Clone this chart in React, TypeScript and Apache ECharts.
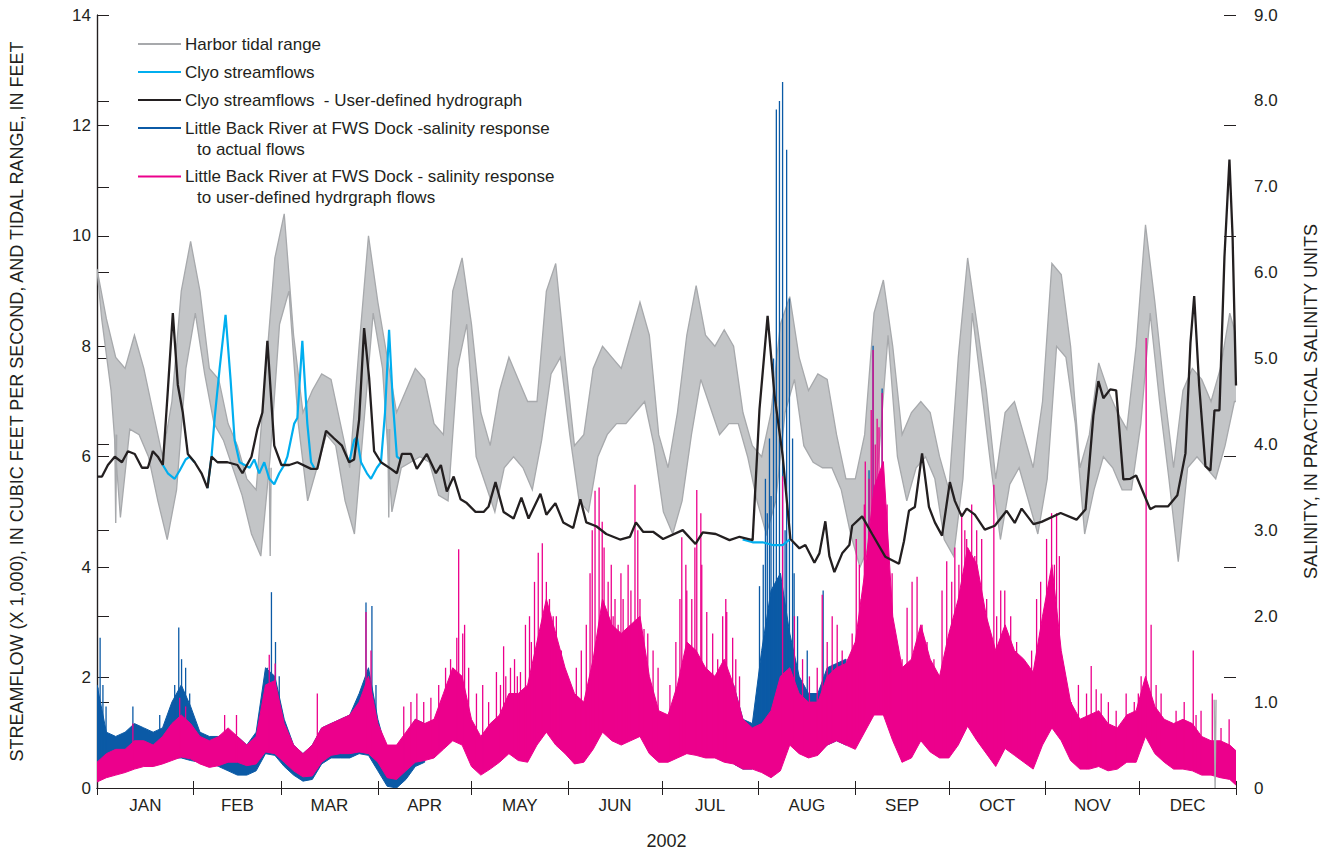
import { useEffect, useRef } from 'react';
import * as echarts from 'echarts';

// ---------- axes / labels ----------
const MONTHS = ['JAN', 'FEB', 'MAR', 'APR', 'MAY', 'JUN', 'JUL', 'AUG', 'SEP', 'OCT', 'NOV', 'DEC'];
const MONTH_START = [0, 31, 59, 90, 120, 151, 181, 212, 243, 273, 304, 334, 365];
const LEFT_TICKS_MAX = 14;
const RIGHT_TICKS_MAX = 9;

// ---------- data, sampled every STEP days (day 0 = Jan 1, 2002) ----------
const STEP = 3;

// Harbor tidal range (ft): higher / lower of the alternating daily ranges
const TIDE_HI = [9.4, 8.5, 7.8, 7.6, 8.2, 7.6, 6.8, 6.0, 7.0, 9.0, 9.9, 9.0, 7.6, 7.4, 6.6, 6.2, 5.6, 5.4, 7.5, 9.6,
  10.4, 8.2, 6.8, 7.2, 7.5, 7.4, 6.6, 5.8, 8.0, 10.0, 8.8, 7.8, 6.8, 7.2, 7.6, 7.4, 6.6, 6.4, 9.0, 9.6,
  8.4, 6.8, 6.2, 7.2, 7.8, 7.4, 7.0, 7.0, 9.0, 9.5, 7.8, 6.2, 6.4, 7.6, 8.0, 7.8, 7.6, 8.2, 8.8, 8.2,
  6.4, 5.8, 6.8, 8.2, 9.1, 8.2, 8.0, 8.3, 8.0, 6.8, 6.2, 6.0, 6.8, 8.4, 8.9, 7.8, 7.2, 7.5, 7.4, 6.4,
  5.6, 5.6, 6.4, 8.6, 9.2, 8.0, 6.4, 6.8, 7.0, 6.8, 6.0, 5.4, 7.8, 9.6, 8.4, 7.2, 5.6, 6.8, 7.0, 6.4,
  5.8, 7.0, 9.5, 9.3, 8.0, 5.8, 6.4, 7.7, 7.2, 6.8, 6.5, 8.0, 10.2, 8.8, 7.2, 5.8, 7.2, 7.6, 7.4, 7.0,
  7.6, 8.6, 8.0];
const TIDE_LO = [8.5, 7.2, 4.9, 6.5, 6.4, 6.0, 5.2, 4.5, 5.4, 7.6, 8.6, 7.5, 6.6, 6.3, 5.8, 5.3, 4.6, 4.2, 6.0, 8.4,
  9.0, 6.6, 5.2, 5.8, 6.4, 6.2, 5.2, 4.6, 6.6, 8.6, 7.6, 5.0, 5.8, 5.9, 6.0, 5.9, 5.3, 5.2, 7.6, 8.4,
  6.0, 5.5, 5.0, 5.8, 6.0, 5.8, 5.4, 6.3, 7.5, 7.8, 6.4, 5.2, 5.0, 6.0, 6.4, 6.6, 6.6, 6.8, 7.0, 6.2,
  5.0, 4.6, 5.2, 6.4, 7.4, 6.9, 6.4, 6.6, 6.6, 6.0, 5.2, 4.6, 5.2, 6.8, 7.4, 6.2, 5.9, 5.8, 5.8, 5.4,
  4.6, 4.0, 4.4, 6.0, 8.2, 6.0, 5.2, 5.8, 6.0, 5.6, 4.5, 4.2, 5.6, 8.6, 7.2, 5.8, 4.5, 5.5, 5.8, 5.2,
  4.6, 5.6, 8.0, 7.8, 6.6, 4.6, 5.4, 6.0, 5.8, 5.4, 5.4, 6.6, 8.6, 7.0, 5.6, 4.1, 5.8, 6.0, 5.8, 5.6,
  6.2, 7.0, 7.0];
// isolated deep dips of the tidal range [day, ft]
const TIDE_DIPS = [[6.0, 4.8], [55.5, 4.2], [93.5, 4.9], [358.3, 0.0]];

// Salinity response to user-defined hydrograph flows (psu): band floor / band top
const PINK_FLOOR = [0.07, 0.12, 0.15, 0.18, 0.22, 0.25, 0.25, 0.28, 0.32, 0.36, 0.34, 0.28, 0.24, 0.26, 0.3, 0.3, 0.26, 0.28, 0.42, 0.4,
  0.3, 0.2, 0.13, 0.14, 0.3, 0.38, 0.4, 0.4, 0.42, 0.4, 0.3, 0.12, 0.1, 0.2, 0.3, 0.32, 0.35, 0.45, 0.55, 0.5,
  0.25, 0.15, 0.22, 0.3, 0.4, 0.32, 0.3, 0.5, 0.65, 0.5, 0.4, 0.28, 0.3, 0.45, 0.65, 0.55, 0.5, 0.55, 0.6, 0.4,
  0.3, 0.3, 0.35, 0.4, 0.38, 0.35, 0.35, 0.3, 0.28, 0.22, 0.22, 0.18, 0.12, 0.2, 0.5, 0.4, 0.35, 0.38, 0.5, 0.55,
  0.5, 0.45, 0.65, 0.85, 0.85, 0.55, 0.3, 0.35, 0.55, 0.42, 0.35, 0.35, 0.5, 0.72, 0.55, 0.4, 0.25, 0.46, 0.38, 0.3,
  0.22, 0.5, 0.7, 0.55, 0.32, 0.22, 0.22, 0.25, 0.2, 0.22, 0.3, 0.3, 0.6, 0.4, 0.3, 0.22, 0.22, 0.2, 0.15, 0.15,
  0.12, 0.1, 0.0];
const PINK_TOP = [0.3, 0.4, 0.45, 0.45, 0.55, 0.55, 0.5, 0.6, 0.75, 0.85, 0.75, 0.6, 0.55, 0.6, 0.7, 0.6, 0.5, 0.6, 1.2, 1.25,
  0.75, 0.5, 0.4, 0.5, 0.7, 0.75, 0.8, 0.85, 1.0, 1.3, 0.75, 0.5, 0.5, 0.65, 0.8, 0.75, 0.8, 1.1, 1.4, 1.3,
  0.8, 0.6, 0.75, 0.85, 1.1, 1.1, 1.2, 1.7, 2.2, 1.8, 1.4, 1.1, 1.0, 1.5, 2.2, 1.9, 1.8, 1.9, 2.0, 1.3,
  0.9, 0.85, 1.2, 1.7, 1.6, 1.4, 1.3, 1.5, 1.2, 0.8, 0.7, 0.75, 0.9, 1.3, 1.4, 1.1, 1.0, 1.0, 1.3, 1.4,
  1.45, 1.7, 2.5, 3.5, 3.8, 2.0, 1.4, 1.5, 1.9, 1.5, 1.3, 1.8, 2.2, 2.8, 2.6, 2.0, 1.6, 1.9, 1.6, 1.5,
  1.35, 2.0, 2.6, 1.6, 1.0, 0.8, 0.85, 0.9, 0.75, 0.7, 0.85, 0.9, 1.3, 0.95, 0.8, 0.75, 0.8, 0.75, 0.6, 0.55,
  0.55, 0.5, 0.4];
// isolated tall pink peaks [day, psu]
const PINK_SPIKES = [[11.5, 0.75], [26.5, 1.05], [28.4, 0.95], [40.9, 0.85], [44.7, 0.85], [55.2, 1.55], [57.1, 1.45], [70.6, 1.1],
  [86.2, 2.05], [87.8, 1.6], [98.3, 0.95], [100.6, 1.0], [102.5, 1.1], [104.7, 1.0], [107, 1.05], [109.5, 1.2], [111.7, 1.4],
  [113.3, 1.5], [115.3, 1.75], [115.9, 2.78], [117.2, 1.8], [117.8, 1.9], [119.1, 1.4],
  [121.6, 1.1], [123.6, 1.2], [125.5, 1.0], [128, 1.35], [129.3, 1.2], [130.3, 1.65], [131, 1.3], [132.5, 1.4], [133.8, 1.5],
  [134.7, 1.3], [135.7, 1.35], [137.3, 1.9], [138.6, 2.0], [139.2, 1.7], [140.2, 2.4], [141.4, 2.74], [142.7, 2.85],
  [144, 2.4], [145, 2.2], [145.6, 1.85], [146.2, 2.0], [147.2, 2.0], [148.1, 1.5], [148.8, 1.6], [149.7, 1.3],
  [153.6, 1.4], [155.2, 1.6], [156.8, 1.9], [158, 2.5], [158.7, 3.0], [159.6, 3.46], [160.9, 3.5], [161.9, 3.1],
  [162.5, 2.8], [163.8, 2.4], [164.8, 2.6], [165.4, 2.0], [166, 2.2], [167, 1.9], [167.9, 2.5], [168.6, 2.2],
  [169.5, 1.75], [170.2, 2.6], [171.1, 2.3], [172.4, 3.53], [173.3, 3.0], [174, 2.2], [175.3, 1.85], [176.5, 1.8],
  [178.2, 1.6], [179.8, 1.4], [183.6, 1.2], [185.5, 1.7], [186.8, 2.2], [187.4, 2.92], [188.7, 2.6], [189, 2.3],
  [190.6, 2.2], [191.6, 2.8], [192.2, 3.47], [193.5, 3.2], [193.8, 2.6], [195.4, 2.05], [197.3, 1.8], [198.9, 1.5],
  [200.5, 2.0], [201.5, 2.2], [201.8, 2.05], [203.7, 1.75], [204.7, 1.5], [205.9, 1.3], [219.7, 3.63],
  [223.5, 2.0], [226.1, 1.5], [228.3, 1.3], [230.8, 1.4], [232.4, 2.25], [234, 1.7], [235.6, 2.0], [237.2, 1.9],
  [238.8, 1.6], [240.4, 1.5], [242, 1.8], [243.3, 2.9], [244.3, 2.6], [244.9, 2.2], [245.9, 3.3], [246.2, 3.8],
  [247.4, 3.6], [248.1, 4.4], [248.7, 5.1], [249.4, 4.0], [250, 4.3], [250.6, 4.2], [251.6, 4.6], [252.6, 3.0],
  [253.2, 3.3], [254.2, 2.2], [254.8, 2.5], [256.4, 1.6], [258, 1.5], [259.6, 2.1], [261.2, 2.4], [262.8, 2.46],
  [264.4, 1.9], [266, 1.7], [268.2, 1.5], [270.8, 2.3], [272.3, 2.64], [273.9, 2.4], [274.9, 2.8], [276.2, 2.6],
  [277.1, 3.2], [278.1, 3.0], [278.7, 2.9], [280.3, 3.3], [281.3, 2.7], [281.9, 3.0], [283.5, 2.9], [285.1, 2.2],
  [287.4, 3.53], [288.3, 2.0], [289.6, 2.3], [290.9, 2.3], [292.8, 2.0], [294.7, 1.7], [296.3, 1.5], [297.9, 1.35],
  [299.5, 1.6], [301.1, 2.2], [302.4, 2.4], [304.3, 2.9], [305.9, 3.2], [306.8, 2.6], [307.5, 3.2], [308.4, 2.7],
  [310, 1.4], [312.2, 1.0], [314.5, 1.2], [317.1, 1.1], [318.6, 1.42], [320.2, 1.15], [321.8, 1.1], [324.1, 1.0],
  [326.6, 0.9], [329.8, 1.1], [332.4, 1.0], [333.7, 1.1], [334.6, 1.3], [336.2, 5.24], [337.8, 1.9], [339.4, 1.2],
  [341, 1.1], [345.8, 0.9], [348.4, 1.0], [351.3, 1.6], [352.2, 0.85], [353.8, 0.9], [357.4, 1.1], [360.2, 0.7], [362.8, 0.8]];

// Salinity response to actual flows (psu), where it departs from the pink curve
const BLUE1_START = 0;
const BLUE1_FLOOR = [0.3, 0.3, 0.3, 0.32, 0.35, 0.35, 0.32, 0.3, 0.35, 0.35, 0.32, 0.3, 0.3, 0.25, 0.2, 0.15, 0.15, 0.2, 0.4, 0.38,
  0.25, 0.15, 0.08, 0.1, 0.28, 0.35, 0.35, 0.35, 0.4, 0.38, 0.2, 0.02, 0.0, 0.1, 0.25, 0.3];
const BLUE1_TOP = [1.2, 0.65, 0.6, 0.65, 0.75, 0.7, 0.65, 0.7, 1.0, 1.2, 0.95, 0.65, 0.6, 0.6, 0.65, 0.6, 0.5, 0.65, 1.4, 1.3,
  0.8, 0.5, 0.4, 0.5, 0.7, 0.75, 0.8, 0.85, 1.1, 1.4, 0.8, 0.4, 0.35, 0.6, 0.8, 0.75];
const BLUE2_START = 204;
const BLUE2_FLOOR = [0.28, 0.22, 0.22, 0.5, 0.8, 0.9, 0.8, 0.45, 0.38, 0.4, 0.5, 0.55, 0.5];
const BLUE2_TOP = [1.2, 0.8, 0.75, 1.6, 2.3, 2.5, 1.8, 1.3, 1.1, 1.1, 1.4, 1.45, 1.5];
const BLUE_SPIKES = [[0.3, 1.17], [1.0, 1.75], [1.9, 1.2], [2.9, 0.95], [11.5, 0.95], [20.1, 0.85], [24.9, 1.2], [26.2, 1.87],
  [27.1, 1.5], [28.4, 1.4], [29.7, 1.1], [54.6, 1.4], [55.9, 2.28], [57.2, 1.7], [58.4, 1.3], [86.2, 2.16], [88.1, 2.12],
  [89.4, 1.2], [212.3, 2.35], [213.5, 2.6], [214.2, 3.6], [214.8, 3.2], [215.5, 4.07], [216, 3.4], [216.8, 5.0],
  [217.7, 7.9], [218.7, 8.0], [219.7, 8.22], [220.5, 3.0], [221, 7.43], [221.9, 5.7], [222.9, 4.07], [223.4, 2.5],
  [224.5, 2.0], [227.6, 1.6], [232.7, 2.3], [247.4, 3.7], [248.7, 5.15], [251.6, 4.65]];

// Clyo streamflows, user-defined hydrograph (x 1,000 cfs) [day, value]
const CLYO_USER = [[0, 5.64], [1.6, 5.64], [3.5, 5.85], [5.7, 6.0], [8, 5.9], [9.9, 6.1], [12.1, 6.05], [14.4, 5.8], [16.3, 5.8],
  [17.9, 6.1], [19.5, 6.0], [21.1, 5.85], [22.7, 7.2], [24.3, 8.6], [25.9, 7.3], [27.5, 6.8], [29.1, 6.05], [31.3, 5.9],
  [33.5, 5.7], [35.4, 5.43], [36.7, 6.0], [38.6, 5.9], [41.8, 5.9], [45, 5.85], [46.6, 5.7], [49.5, 6.0], [51.4, 6.5],
  [53, 6.8], [54.6, 8.1], [56.8, 6.2], [59.1, 5.85], [61.6, 5.85], [64.2, 5.9], [68.6, 5.78], [70.6, 5.78], [73.4, 6.47],
  [76, 6.33], [78.5, 6.2], [80.8, 5.9], [82.4, 5.95], [84, 6.67], [85.6, 8.33], [87.2, 7.43], [88.8, 6.1], [91, 5.9],
  [94.2, 5.78], [96.1, 5.7], [97.7, 6.05], [100.6, 6.05], [102.5, 5.78], [105.7, 6.05], [108.6, 5.7], [110.2, 5.85],
  [112.1, 5.37], [114.3, 5.64], [116.5, 5.23], [118.5, 5.16], [121.3, 5.0], [123.9, 5.0], [125.5, 5.1], [127.7, 5.54],
  [130.3, 5.0], [133.5, 4.88], [136, 5.26], [138.3, 4.88], [142.1, 5.33], [144, 4.95], [146.9, 5.16], [149.4, 4.81],
  [152.6, 4.71], [154.9, 5.23], [156.8, 4.81], [160, 4.74], [163.2, 4.6], [167.6, 4.5], [170.8, 4.55], [172.7, 4.81],
  [175, 4.64], [178.2, 4.64], [181.4, 4.51], [187.7, 4.67], [191.8, 4.42], [194.1, 4.63], [198.3, 4.6], [202.7, 4.49],
  [205.9, 4.55], [210.1, 4.49], [212.3, 6.86], [214.9, 8.55], [217.1, 7.12], [219.7, 6.03], [222.2, 4.51], [225.1, 4.34],
  [227, 4.4], [229.9, 4.08], [231.5, 4.25], [233.4, 4.83], [234.7, 4.2], [236.3, 3.91], [238.8, 4.25], [241.1, 4.4],
  [242, 4.75], [245.2, 4.92], [248.4, 4.6], [252.6, 4.19], [257, 4.06], [258.6, 4.47], [260.2, 5.02], [262.1, 5.09],
  [264.4, 6.06], [266.6, 5.09], [268.5, 4.81], [270.8, 4.57], [273.3, 5.54], [274.9, 5.2], [277.1, 4.92], [278.7, 5.06],
  [281.3, 4.95], [284.5, 4.68], [287.7, 4.75], [291.5, 5.02], [294.1, 4.8], [296.3, 5.06], [300.1, 4.78], [302.7, 4.82],
  [308.8, 4.98], [313.9, 4.86], [316.8, 5.05], [319.3, 6.75], [320.9, 7.37], [322.5, 7.06], [324.7, 7.22], [326.6, 7.2],
  [328.9, 5.59], [331.1, 5.6], [333, 5.66], [335.2, 5.36], [337.5, 5.05], [339.1, 5.1], [343.2, 5.1], [346.2, 5.3],
  [348.8, 6.06], [350.4, 8.06], [351.6, 8.91], [353.2, 7.29], [355.2, 5.83], [356.8, 5.75], [358.1, 6.84], [359.7, 6.84],
  [361.3, 9.62], [362.9, 11.38], [363.9, 10.0], [365, 7.29]];

// Clyo streamflows, actual, where they differ from the user-defined hydrograph (null = gap)
const CLYO_ACTUAL = [[21.1, 5.85], [22.7, 5.7], [24.9, 5.6], [26.5, 5.75], [28.4, 5.95], [29.7, 6.0], [31.3, 5.9], [33, null],
  [35.4, 5.43], [36.7, 6.0], [37.7, 6.7], [39.3, 7.6], [41.2, 8.57], [42.8, 7.4], [44.1, 6.3], [45.7, 5.9], [47.3, 5.85],
  [48.9, 5.8], [50.4, 5.95], [52, 5.7], [53.6, 5.9], [55.2, 5.6], [56.8, 5.5], [58.4, 5.7], [60, 5.85], [61, 6.0],
  [63.2, 6.6], [64.2, 6.7], [65.8, 8.1], [67.4, 6.6], [68.6, 5.9], [69.6, 5.8], [75, null],
  [80.8, 5.9], [82.4, 6.3], [83.3, 6.35], [84.6, 5.9], [86.5, 5.7], [87.8, 5.6], [89.7, 5.8], [91, 5.9], [92.3, 6.8],
  [93.6, 8.3], [94.8, 7.0], [96.1, 6.0], [97.4, 5.95], [150, null],
  [206.9, 4.5], [210.1, 4.45], [213.3, 4.45], [216.5, 4.4], [219.7, 4.4], [222.2, 4.51]];

// ---------- styling ----------
const FONT = '"Liberation Sans", Arial, sans-serif';
const INK = '#231f20';
const C_GRAY = '#a7a9ac';
const C_GRAY_FILL = '#c3c5c7';
const C_CYAN = '#00aeef';
const C_BLACK = '#231f20';
const C_BLUE = '#0b5aa6';
const C_PINK = '#ec008c';

const LEGEND = [
  { color: C_GRAY, lines: ['Harbor tidal range'] },
  { color: C_CYAN, lines: ['Clyo streamflows'] },
  { color: C_BLACK, lines: ['Clyo streamflows  - User-defined hydrograph'] },
  { color: C_BLUE, lines: ['Little Back River at FWS Dock -salinity response', 'to actual flows'] },
  { color: C_PINK, lines: ['Little Back River at FWS Dock - salinity response', 'to user-defined hydrgraph flows'] },
];

// band drawn as one polygon through the axis scales: top edge forward, bottom edge backward
function bandSeries(top: number[], bottom: number[], start: number, bottomOffset: number,
  yAxisIndex: number, fill: string, stroke: string, lw: number) {
  return {
    type: 'custom', coordinateSystem: 'cartesian2d', xAxisIndex: 0, yAxisIndex, silent: true,
    data: [[start, bottom[0]]], encode: { x: 0, y: 1 }, clip: true,
    renderItem: (_p: any, api: any) => {
      const pts: number[][] = [];
      top.forEach((t, i) => pts.push(api.coord([start + i * STEP, t])));
      for (let i = bottom.length - 1; i >= 0; i--) pts.push(api.coord([start + i * STEP + bottomOffset, bottom[i]]));
      return {
        type: 'polygon', shape: { points: pts },
        style: { fill, stroke, lineWidth: lw, lineJoin: 'miter' },
      };
    },
  };
}

// base of a spike: the higher of the two neighbouring band-floor samples, so it starts inside the band
function floorAt(day: number, floor: number[], start: number) {
  const k = (day - start) / STEP;
  const a = floor[Math.max(0, Math.floor(k))];
  const b = floor[Math.min(floor.length - 1, Math.ceil(k))];
  return Math.max(a ?? 0, b ?? 0);
}

function spikeSeries(data: number[][], color: string, baseOf: (d: number) => number) {
  return {
    type: 'custom', coordinateSystem: 'cartesian2d', xAxisIndex: 0, yAxisIndex: 1, silent: true,
    data, encode: { x: 0, y: 1 }, clip: true,
    renderItem: (_p: any, api: any) => {
      const d = api.value(0);
      const p1 = api.coord([d, baseOf(d)]);
      const p2 = api.coord([d, api.value(1)]);
      return {
        type: 'line', shape: { x1: p1[0], y1: p1[1], x2: p2[0], y2: p2[1] },
        style: { stroke: color, lineWidth: 1.3 },
      };
    },
  };
}

const pinkBase = (d: number) => floorAt(d, PINK_FLOOR, 0);
const blueBase = (d: number) => {
  if (d >= BLUE1_START && d <= BLUE1_START + (BLUE1_FLOOR.length - 1) * STEP) return floorAt(d, BLUE1_FLOOR, BLUE1_START);
  if (d >= BLUE2_START && d <= BLUE2_START + (BLUE2_FLOOR.length - 1) * STEP) return floorAt(d, BLUE2_FLOOR, BLUE2_START);
  return pinkBase(d);
};

export default function App() {
  const ref = useRef<HTMLDivElement>(null);

  useEffect(() => {
    if (!ref.current) return;
    const chart = echarts.init(ref.current, null, { renderer: 'svg' });

    const mids = MONTHS.map((_, i) => (MONTH_START[i] + MONTH_START[i + 1]) / 2);

    const legendGraphics: any[] = [];
    let y = 44;
    LEGEND.forEach((item) => {
      legendGraphics.push({
        type: 'line', z: 100, shape: { x1: 138, y1: y, x2: 181, y2: y },
        style: { stroke: item.color, lineWidth: 2 },
      });
      item.lines.forEach((t, k) => {
        legendGraphics.push({
          type: 'text', z: 100, x: k === 0 ? 185 : 197, y: y + k * 21,
          style: { text: t, fill: INK, fontSize: 17, fontFamily: FONT, verticalAlign: 'middle' },
        });
      });
      y += item.lines.length > 1 ? 48.5 : 28;
    });

    const axisLine = { show: true, lineStyle: { color: INK, width: 1.2 } };

    const option: any = {
      animation: false,
      backgroundColor: '#ffffff',
      textStyle: { fontFamily: FONT },
      grid: { left: 97, right: 88, top: 15, bottom: 64 },
      xAxis: [
        {
          type: 'value', min: 0, max: 365, position: 'bottom',
          axisLine,
          axisTick: { show: true, inside: true, length: 7, customValues: MONTH_START, lineStyle: { color: INK } },
          axisLabel: {
            show: true, customValues: mids, margin: 9, fontSize: 17, color: INK, fontFamily: FONT,
            formatter: (v: number) => {
              const i = mids.findIndex((m) => Math.abs(m - v) < 0.01);
              return i >= 0 ? MONTHS[i] : '';
            },
          },
          splitLine: { show: false },
          name: '2002', nameLocation: 'middle', nameGap: 44,
          nameTextStyle: { fontSize: 18, color: INK, fontFamily: FONT },
        },
        {
          type: 'value', min: 0, max: 365, position: 'top',
          axisLine,
          axisTick: { show: true, inside: true, length: 7, customValues: MONTH_START, lineStyle: { color: INK } },
          axisLabel: { show: false },
          splitLine: { show: false },
        },
      ],
      yAxis: [
        {
          type: 'value', min: 0, max: LEFT_TICKS_MAX, interval: 2, position: 'left',
          axisLine,
          axisTick: { show: true, inside: true, length: 12, lineStyle: { color: INK } },
          axisLabel: { fontSize: 17, color: INK, margin: 6, fontFamily: FONT },
          splitLine: { show: false },
          name: 'STREAMFLOW (X 1,000), IN CUBIC FEET PER SECOND, AND TIDAL RANGE, IN FEET',
          nameLocation: 'middle', nameGap: 71, nameRotate: 90,
          nameTextStyle: { fontSize: 18, color: INK, fontFamily: FONT },
        },
        {
          type: 'value', min: 0, max: RIGHT_TICKS_MAX, interval: 1, position: 'right',
          axisLine,
          axisTick: { show: true, inside: false, length: 12, lineStyle: { color: INK } },
          axisLabel: {
            fontSize: 17, color: INK, margin: 18, fontFamily: FONT,
            formatter: (v: number) => (v === 0 ? '0' : v.toFixed(1)),
          },
          splitLine: { show: false },
          name: 'SALINITY, IN PRACTICAL SALINITY UNITS',
          nameLocation: 'middle', nameGap: 66, nameRotate: 90,
          nameTextStyle: { fontSize: 18, color: INK, fontFamily: FONT },
        },
        {
          type: 'value', min: 0, max: LEFT_TICKS_MAX, interval: 2, position: 'right',
          axisLine: { show: false },
          axisTick: { show: true, inside: true, length: 12, lineStyle: { color: INK } },
          axisLabel: { show: false },
          splitLine: { show: false },
        },
      ],
      series: [
        bandSeries(TIDE_HI, TIDE_LO, 0, STEP / 2, 0, C_GRAY_FILL, C_GRAY, 1.3),
        bandSeries(BLUE1_TOP, BLUE1_FLOOR, BLUE1_START, 0, 1, C_BLUE, C_BLUE, 1),
        bandSeries(BLUE2_TOP, BLUE2_FLOOR, BLUE2_START, 0, 1, C_BLUE, C_BLUE, 1),
        spikeSeries(BLUE_SPIKES, C_BLUE, blueBase),
        bandSeries(PINK_TOP, PINK_FLOOR, 0, 0, 1, C_PINK, C_PINK, 1),
        spikeSeries(PINK_SPIKES, C_PINK, pinkBase),
        {
          type: 'line', yAxisIndex: 0, data: TIDE_DIPS.flatMap((d) => [[d[0] - 0.4, null], [d[0] - 0.3, d[1] + 1.6], [d[0], d[1]], [d[0] + 0.3, d[1] + 1.6]]),
          symbol: 'none', silent: true, connectNulls: false, lineStyle: { color: C_GRAY, width: 1.4 },
        },
        {
          name: 'Clyo streamflows', type: 'line', yAxisIndex: 0, data: CLYO_ACTUAL, connectNulls: false,
          symbol: 'none', silent: true, lineStyle: { color: C_CYAN, width: 2.2 },
        },
        {
          name: 'Clyo streamflows  - User-defined hydrograph', type: 'line', yAxisIndex: 0, data: CLYO_USER,
          symbol: 'none', silent: true, lineStyle: { color: C_BLACK, width: 2.3 },
        },
      ],
      graphic: legendGraphics,
    };

    chart.setOption(option);
    return () => chart.dispose();
  }, []);

  return (
    <div
      ref={ref}
      style={{ position: 'absolute', left: 0, top: 0, width: 1328, height: 855, background: '#fff' }}
    />
  );
}
